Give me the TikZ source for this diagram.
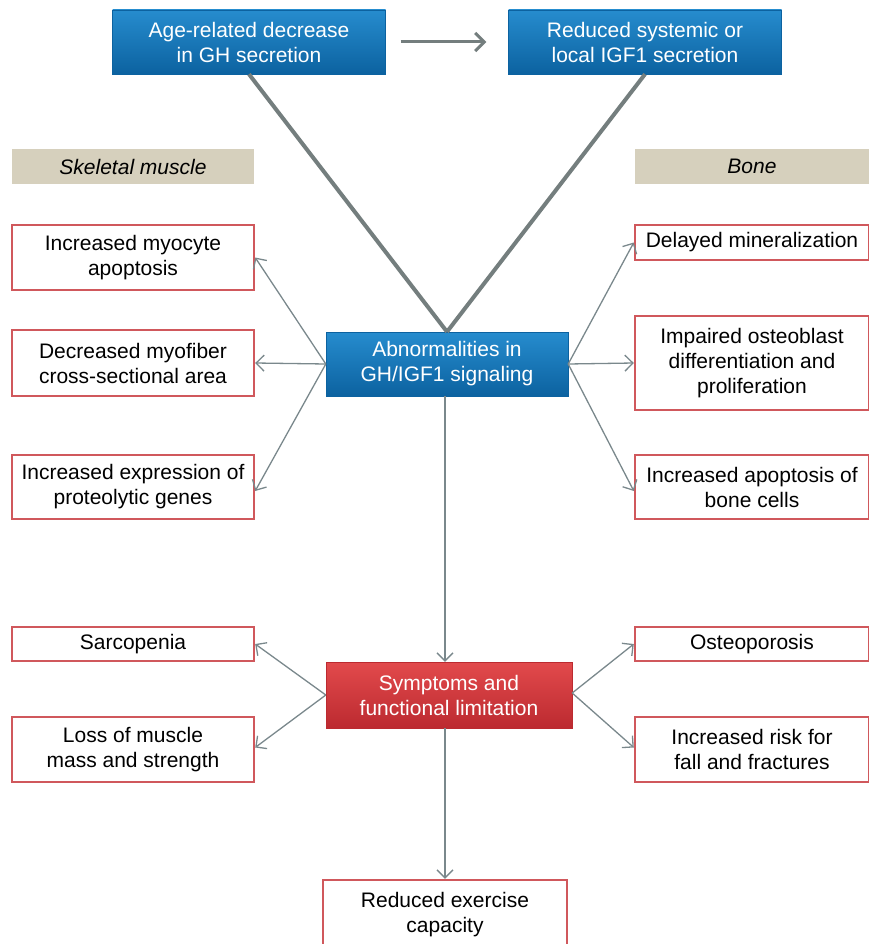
\documentclass[tikz,border=0pt]{standalone}
\usepackage{fontspec}
\setmainfont{Liberation Sans}
\usetikzlibrary{arrows.meta}
\definecolor{boxblueA}{RGB}{38,140,206}
\definecolor{boxblueB}{RGB}{12,98,160}
\definecolor{boxredA}{RGB}{226,74,76}
\definecolor{boxredB}{RGB}{188,42,48}
\definecolor{frame}{RGB}{208,88,92}
\definecolor{headbg}{RGB}{214,208,189}
\definecolor{linkgray}{RGB}{122,136,140}
\definecolor{heavygray}{RGB}{116,126,126}
\begin{document}
\begin{tikzpicture}[x=1pt,y=-1pt,
		font=\fontsize{21}{25}\selectfont,
		bluebox/.style={top color=boxblueA, bottom color=boxblueB, draw=boxblueB, text=white, align=center, inner sep=0pt},
		redbox/.style={top color=boxredA, bottom color=boxredB, draw=boxredB, text=white, align=center, inner sep=0pt},
		outbox/.style={draw=frame, line width=2.4pt, fill=white, align=center, inner sep=0pt},
		headbar/.style={fill=headbg, font=\fontsize{21}{25}\selectfont\itshape, inner sep=0pt},
		link/.style={draw=linkgray, line width=1.3pt, -{Straight Barb[length=8pt,width=16pt]}},
		heavyline/.style={draw=heavygray, line width=4pt}]
	\useasboundingbox (0,0) rectangle (869,944);
	
	\node[bluebox, minimum width=273pt, minimum height=64pt] (age) at (249,42) {Age-related decrease\\in GH secretion};
	\node[bluebox, minimum width=273pt, minimum height=64pt] (igf) at (645,42) {Reduced systemic or\\local IGF1 secretion};
	\draw[heavyline, line width=3pt, -{Straight Barb[length=9pt,width=18pt]}, shorten <=15pt, shorten >=22pt] (age.east) -- (igf.west);
	
	\node[headbar, minimum width=242pt, minimum height=35pt] (muscle) at (133,166.5) {Skeletal muscle};
	\node[headbar, minimum width=234pt, minimum height=35pt] (bone) at (752,166.5) {Bone};
	
	\node[bluebox, minimum width=242pt, minimum height=64pt] (abn) at (447,364) {Abnormalities in\\GH/IGF1 signaling};
	\draw[heavyline] (age.south) -- (abn.north);
	\draw[heavyline] (igf.south) -- (abn.north);
	
	\node[outbox, minimum width=242pt, minimum height=65pt] (myo) at (133,257.5) {Increased myocyte\\apoptosis};
	\node[outbox, minimum width=242pt, minimum height=66pt] (fiber) at (133,363) {Decreased myofiber\\cross-sectional area};
	\node[outbox, minimum width=242pt, minimum height=64pt] (prot) at (133,487) {Increased expression of\\proteolytic genes};
	\node[outbox, minimum width=234pt, minimum height=35pt] (mineral) at (752,242.5) {Delayed mineralization};
	\node[outbox, minimum width=234pt, minimum height=94pt] (osteo) at (752,363) {Impaired osteoblast\\differentiation and\\proliferation};
	\node[outbox, minimum width=234pt, minimum height=64pt] (bcell) at (752,487) {Increased apoptosis of\\bone cells};
	
	\draw[link] (abn.west) -- (myo.east);
	\draw[link] (abn.west) -- (fiber.east);
	\draw[link] (abn.west) -- ([yshift=-4pt]prot.east);
	\draw[link] (abn.east) -- (mineral.east -| osteo.west);
	\draw[link] (abn.east) -- (osteo.west);
	\draw[link] (abn.east) -- ([yshift=-4pt]bcell.west);
	
	\node[redbox, minimum width=246pt, minimum height=66pt] (symp) at (449,695) {Symptoms and\\functional limitation};
	\draw[link] (abn.south -| 445,0) -- (symp.north -| 445,0);
	
	\node[outbox, minimum width=242pt, minimum height=34pt] (sarc) at (133,644) {Sarcopenia};
	\node[outbox, minimum width=242pt, minimum height=65pt] (loss) at (133,749.5) {Loss of muscle\\mass and strength};
	\node[outbox, minimum width=234pt, minimum height=34pt] (porosis) at (752,644) {Osteoporosis};
	\node[outbox, minimum width=234pt, minimum height=65pt] (fall) at (752,749.5) {Increased risk for\\fall and fractures};
	
	\draw[link] (symp.west) -- (sarc.east);
	\draw[link] (symp.west) -- ([yshift=2pt]loss.east);
	\draw[link] ([yshift=2pt]symp.east) -- (porosis.west);
	\draw[link] ([yshift=2pt]symp.east) -- ([yshift=2pt]fall.west);
	
	\node[outbox, minimum width=244pt, minimum height=70pt] (exer) at (445,915) {Reduced exercise\\capacity};
	\draw[link] (symp.south -| exer.north) -- (exer.north);
\end{tikzpicture}
\end{document}
